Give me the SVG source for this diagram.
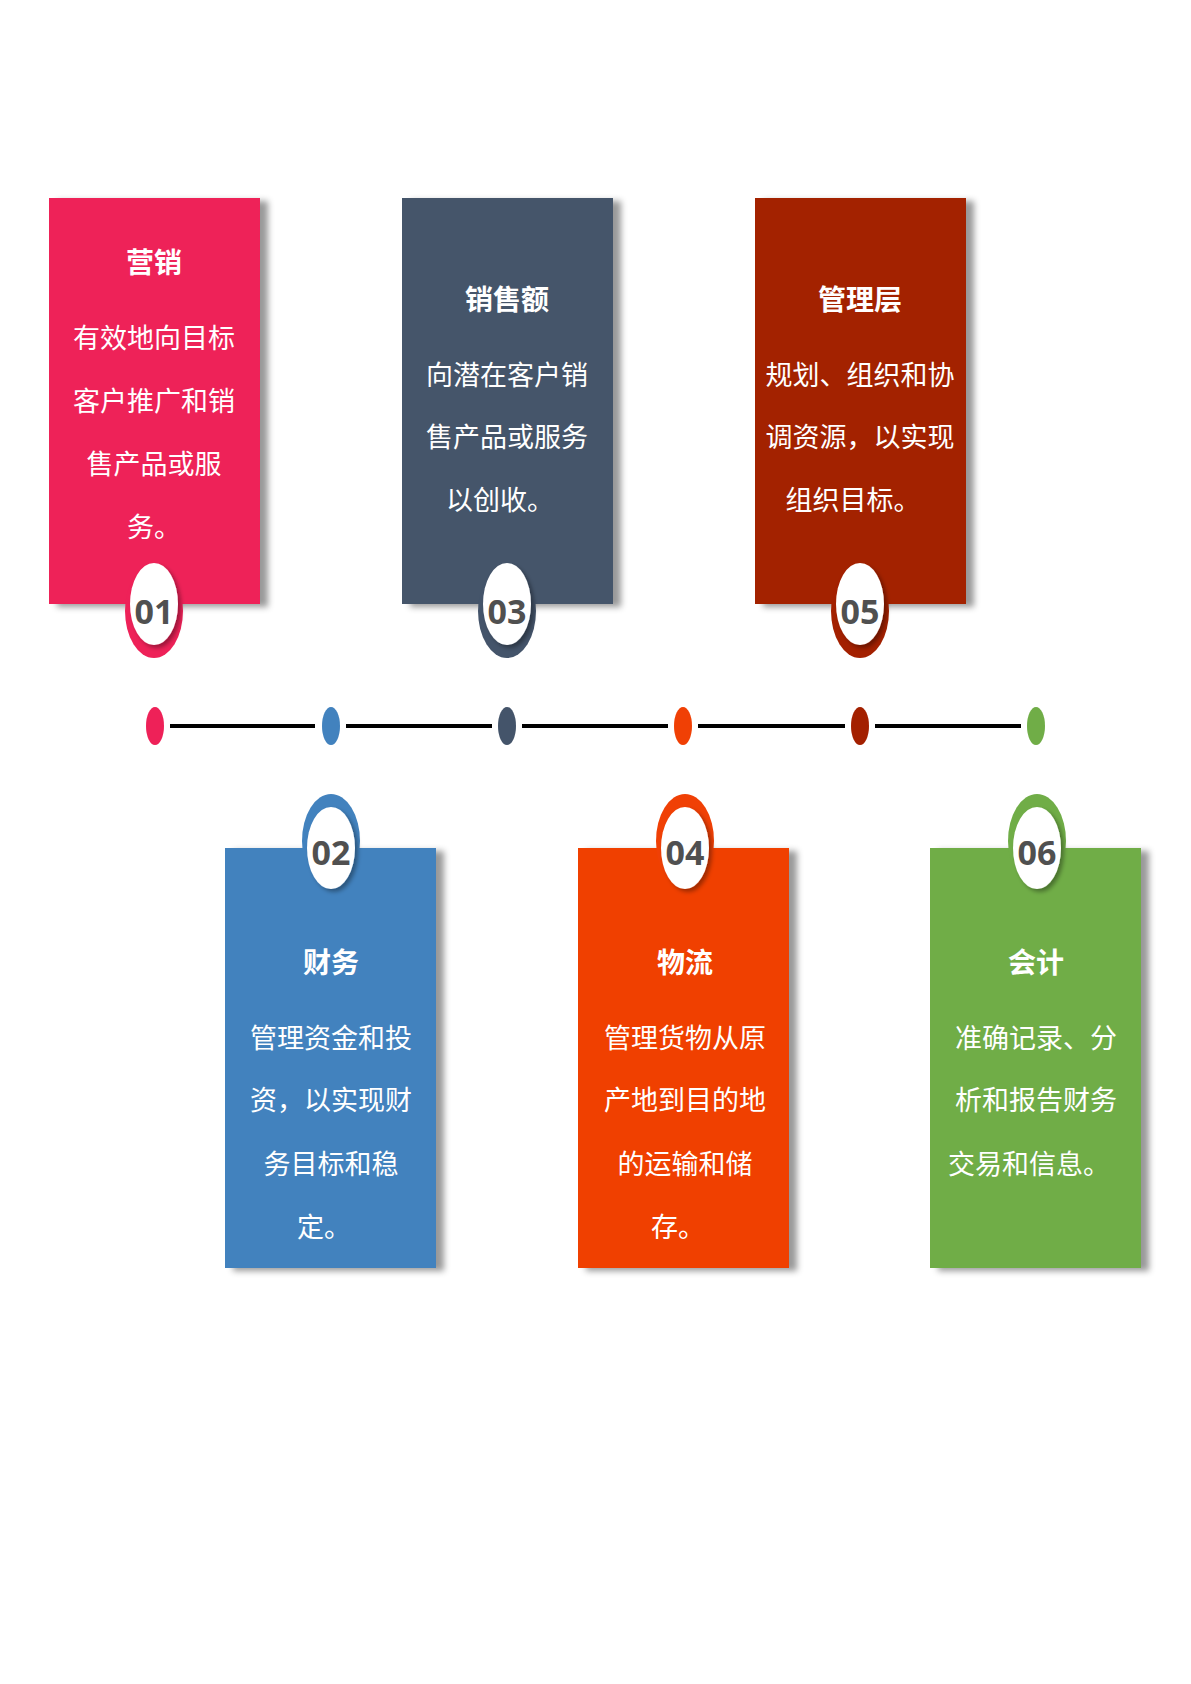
<svg xmlns="http://www.w3.org/2000/svg" width="1191" height="1684" viewBox="0 0 1191 1684">
<defs>
<filter id="sh" x="-10%" y="-10%" width="130%" height="130%"><feDropShadow dx="8" dy="3" stdDeviation="3" flood-color="#000" flood-opacity="0.4"/></filter>
<filter id="bs" x="-30%" y="-30%" width="160%" height="160%"><feDropShadow dx="3" dy="3" stdDeviation="2" flood-color="#000" flood-opacity="0.35"/></filter>
<style>
.t{font-family:"Noto Sans CJK SC","Noto Sans",sans-serif;fill:#fff;text-anchor:middle}
.h{font-size:28px;font-weight:bold}
.b{font-size:27px}
.n{font-family:"Open Sans","Noto Sans",sans-serif;font-weight:bold;font-size:34px;fill:#505050;text-anchor:middle}
.ln{stroke:#000;stroke-width:4}
</style>
</defs>
<rect width="1191" height="1684" fill="#fff"/>
<g id="connectors">
<line class="ln" x1="170" y1="726" x2="315" y2="726"/>
<line class="ln" x1="346" y1="726" x2="492" y2="726"/>
<line class="ln" x1="522" y1="726" x2="668" y2="726"/>
<line class="ln" x1="698" y1="726" x2="845" y2="726"/>
<line class="ln" x1="875" y1="726" x2="1021" y2="726"/>
<ellipse cx="155" cy="726" rx="9" ry="19" fill="#EE2158"/>
<ellipse cx="331" cy="726" rx="9" ry="19" fill="#4282BE"/>
<ellipse cx="507" cy="726" rx="9" ry="19" fill="#44546A"/>
<ellipse cx="683" cy="726" rx="9" ry="19" fill="#F04005"/>
<ellipse cx="860" cy="726" rx="9" ry="19" fill="#A32000"/>
<ellipse cx="1036" cy="726" rx="9" ry="19" fill="#70AD47"/>
</g>
<g id="n01">
<rect x="49" y="198" width="211" height="406" fill="#EE2158" filter="url(#sh)"/>
<ellipse cx="154" cy="611" rx="29" ry="47" fill="#EE2158"/>
<ellipse cx="154" cy="604" rx="24" ry="41" fill="#fff" filter="url(#bs)"/>
<text class="n" x="154" y="624">01</text>
<text class="t h" x="154" y="273">营销</text>
<text class="t b" x="154" y="348">有效地向目标</text>
<text class="t b" x="154" y="411">客户推广和销</text>
<text class="t b" x="154" y="474">售产品或服</text>
<text class="t b" x="154" y="537">务。</text>
</g>
<g id="n03">
<rect x="402" y="198" width="211" height="406" fill="#44546A" filter="url(#sh)"/>
<ellipse cx="507" cy="611" rx="29" ry="47" fill="#44546A"/>
<ellipse cx="507" cy="604" rx="24" ry="41" fill="#fff" filter="url(#bs)"/>
<text class="n" x="507" y="624">03</text>
<text class="t h" x="507" y="310">销售额</text>
<text class="t b" x="507" y="385">向潜在客户销</text>
<text class="t b" x="507" y="447">售产品或服务</text>
<text class="t b" x="500" y="510">以创收。</text>
</g>
<g id="n05">
<rect x="755" y="198" width="211" height="406" fill="#A32000" filter="url(#sh)"/>
<ellipse cx="860" cy="611" rx="29" ry="47" fill="#A32000"/>
<ellipse cx="860" cy="604" rx="24" ry="41" fill="#fff" filter="url(#bs)"/>
<text class="n" x="860" y="624">05</text>
<text class="t h" x="860" y="310">管理层</text>
<text class="t b" x="860" y="385">规划、组织和协</text>
<text class="t b" x="860" y="447">调资源，以实现</text>
<text class="t b" x="853" y="510">组织目标。</text>
</g>
<g id="n02">
<rect x="225" y="848" width="211" height="420" fill="#4282BE" filter="url(#sh)"/>
<ellipse cx="331" cy="841" rx="29" ry="47" fill="#4282BE"/>
<ellipse cx="331" cy="848" rx="24" ry="41" fill="#fff" filter="url(#bs)"/>
<text class="n" x="331" y="865">02</text>
<text class="t h" x="331" y="973">财务</text>
<text class="t b" x="331" y="1048">管理资金和投</text>
<text class="t b" x="331" y="1110">资，以实现财</text>
<text class="t b" x="331" y="1174">务目标和稳</text>
<text class="t b" x="324" y="1237">定。</text>
</g>
<g id="n04">
<rect x="578" y="848" width="211" height="420" fill="#F04005" filter="url(#sh)"/>
<ellipse cx="685" cy="841" rx="29" ry="47" fill="#F04005"/>
<ellipse cx="685" cy="848" rx="24" ry="41" fill="#fff" filter="url(#bs)"/>
<text class="n" x="685" y="865">04</text>
<text class="t h" x="685" y="973">物流</text>
<text class="t b" x="685" y="1048">管理货物从原</text>
<text class="t b" x="685" y="1110">产地到目的地</text>
<text class="t b" x="685" y="1174">的运输和储</text>
<text class="t b" x="678" y="1237">存。</text>
</g>
<g id="n06">
<rect x="930" y="848" width="211" height="420" fill="#70AD47" filter="url(#sh)"/>
<ellipse cx="1037" cy="841" rx="29" ry="47" fill="#70AD47"/>
<ellipse cx="1037" cy="848" rx="24" ry="41" fill="#fff" filter="url(#bs)"/>
<text class="n" x="1037" y="865">06</text>
<text class="t h" x="1036" y="973">会计</text>
<text class="t b" x="1036" y="1048">准确记录、分</text>
<text class="t b" x="1036" y="1110">析和报告财务</text>
<text class="t b" x="1029" y="1174">交易和信息。</text>
</g>
</svg>
